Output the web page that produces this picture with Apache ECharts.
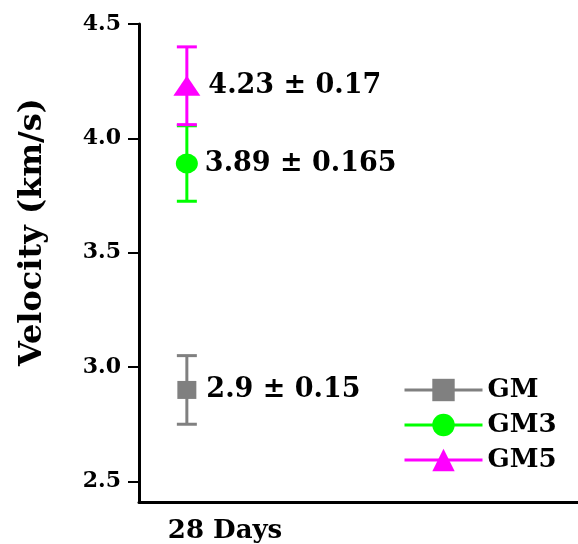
<!DOCTYPE html>
<html><head><meta charset="utf-8">
<script src="https://cdn.jsdelivr.net/npm/echarts@6/dist/echarts.min.js"></script>
<style>html,body{margin:0;padding:0;background:#fff}#c{width:578px;height:544px}</style>
</head><body><div id="c"></div>
<script>
const groups = ['GM', 'GM3', 'GM5'];
const means = [2.9, 3.89, 4.23];
const errors = [0.15, 0.165, 0.17];
const categoryLabel = '28 Days';
const yTicks = [2.5, 3.0, 3.5, 4.0, 4.5];
const colors = ['#808080', '#00ff00', '#ff00ff'];
const symbols = ['rect', 'circle', 'triangle'];
const symbolSizes = [[19, 18], [22, 20], [27, 20]];
const labelDist = [10, 7, 8];
const xPos = 1.09;
const labelX = 1.96;
const FONT = 'DejaVu Serif';

const chart = echarts.init(document.getElementById('c'));
const series = [];
groups.forEach((g, i) => {
  series.push({
    name: g + ' error', type: 'custom', silent: true, z: 2,
    data: [[xPos, means[i] - errors[i], means[i] + errors[i]]],
    renderItem: function (params, api) {
      const lo = api.coord([api.value(0), api.value(1)]);
      const hi = api.coord([api.value(0), api.value(2)]);
      const w = 10;
      const st = { stroke: colors[i], lineWidth: 3 };
      return { type: 'group', children: [
        { type: 'line', shape: { x1: lo[0], y1: lo[1], x2: hi[0], y2: hi[1] }, style: st },
        { type: 'line', shape: { x1: lo[0] - w, y1: lo[1], x2: lo[0] + w, y2: lo[1] }, style: st },
        { type: 'line', shape: { x1: hi[0] - w, y1: hi[1], x2: hi[0] + w, y2: hi[1] }, style: st }
      ]};
    }
  });
  series.push({
    name: g, type: 'line', z: 3,
    data: [[xPos, means[i]]],
    symbol: symbols[i], symbolSize: symbolSizes[i], showSymbol: true,
    itemStyle: { color: colors[i] },
    lineStyle: { color: colors[i], width: 3 },
    label: {
      show: true, position: 'right', distance: labelDist[i],
      formatter: () => means[i] + ' ± ' + errors[i],
      fontFamily: FONT, fontWeight: 'bold', fontSize: 27, color: '#000'
    }
  });
});

chart.setOption({
  animation: false,
  grid: { left: 139, right: 0, top: 24, bottom: 41, containLabel: false },
  legend: {
    data: groups, orient: 'vertical', left: 398, top: 372,
    itemWidth: 78, itemHeight: 28, itemGap: 9,
    lineStyle: { width: 3 },
    textStyle: { fontFamily: FONT, fontWeight: 'bold', fontSize: 26, color: '#000' }
  },
  xAxis: {
    type: 'value', min: 0, max: 10,
    axisLine: { show: true, lineStyle: { color: '#000', width: 3 } },
    axisTick: { show: false },
    splitLine: { show: false },
    axisLabel: {
      customValues: [labelX], formatter: () => categoryLabel,
      fontFamily: FONT, fontWeight: 'bold', fontSize: 26, color: '#000', margin: 16
    }
  },
  yAxis: {
    type: 'value', min: 2.41, max: 4.5,
    name: 'Velocity (km/s)', nameLocation: 'middle', nameGap: 90,
    nameTextStyle: { fontFamily: FONT, fontWeight: 'bold', fontSize: 32, color: '#000', padding: [0, 0, 0, 62] },
    axisLine: { show: true, lineStyle: { color: '#000', width: 3 } },
    axisTick: { show: true, customValues: yTicks, length: 11, lineStyle: { color: '#000', width: 2 } },
    splitLine: { show: false },
    axisLabel: {
      customValues: yTicks, formatter: v => v.toFixed(1),
      fontFamily: FONT, fontWeight: 'bold', fontSize: 22, color: '#000', margin: 18
    }
  },
  series: series
});
</script></body></html>
